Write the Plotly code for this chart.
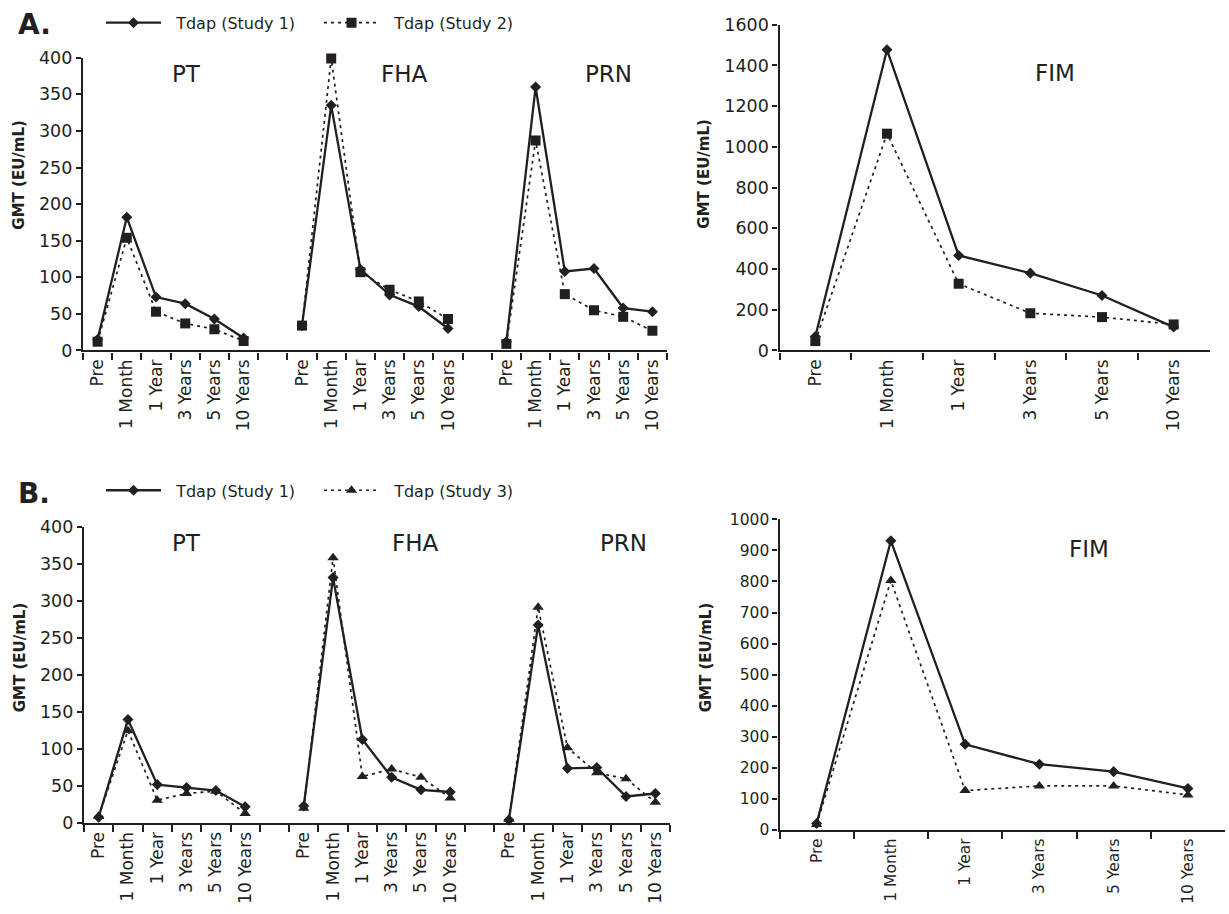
import plotly.graph_objects as go

# ---------------- data ----------------
timepoints = ["Pre", "1 Month", "1 Year", "3 Years", "5 Years", "10 Years"]
left_antigens = ["PT", "FHA", "PRN"]

# Panel A: Study 1 vs Study 2
A_PT_s1 = [15, 182, 73, 64, 43, 17]
A_PT_s2 = [12, 154, 53, 37, 29, 13]
A_FHA_s1 = [34, 335, 111, 76, 60, 30]
A_FHA_s2 = [34, 399, 107, 83, 67, 43]
A_PRN_s1 = [12, 360, 108, 112, 58, 53]
A_PRN_s2 = [9, 287, 77, 55, 46, 27]
A_FIM_s1 = [69, 1477, 467, 380, 270, 115]
A_FIM_s2 = [46, 1065, 328, 183, 164, 128]

# Panel B: Study 1 vs Study 3
B_PT_s1 = [8, 140, 52, 48, 44, 22]
B_PT_s3 = [9, 125, 31, 40, 43, 13]
B_FHA_s1 = [23, 332, 113, 62, 45, 42]
B_FHA_s3 = [20, 359, 63, 73, 62, 34]
B_PRN_s1 = [4, 268, 74, 75, 36, 40]
B_PRN_s3 = [5, 292, 102, 68, 60, 28]
B_FIM_s1 = [21, 931, 276, 212, 188, 134]
B_FIM_s3 = [18, 803, 127, 142, 142, 113]

name_s1 = "Tdap (Study 1)"
name_s2 = "Tdap (Study 2)"
name_s3 = "Tdap (Study 3)"

# ---------------- helpers ----------------
ZW = "\u200b"   # invisible, keeps repeated labels unique
GAP = "\u2060"  # invisible gap slots between antigen groups
PAD = "\u00a0\u00a0"  # small gap between legend symbol and text


def left_categories():
    cats = []
    for g in range(len(left_antigens)):
        cats += [tp + ZW * g for tp in timepoints]
        if g < len(left_antigens) - 1:
            cats.append(GAP * (g + 1))
    return cats


def left_values(*groups):
    vals = []
    for i, grp in enumerate(groups):
        vals += list(grp)
        if i < len(groups) - 1:
            vals.append(None)
    return vals


CATS = left_categories()
INK = "#231f20"
FONT = "DejaVu Sans"

solid = dict(color=INK, width=2.3)
dotted = dict(color=INK, width=1.7, dash="3px,4px")

fig = go.Figure()


def add_series(x, y, xa, ya, line, symbol, size, name, legend, showlegend):
    fig.add_trace(go.Scatter(
        x=x, y=y, xaxis=xa, yaxis=ya, mode="lines+markers",
        line=line, marker=dict(symbol=symbol, size=size, color=INK),
        name=PAD + name, legend=legend, showlegend=showlegend,
        cliponaxis=False, connectgaps=False, hoverinfo="skip"))


D, S, T = 8.5, 10, 10  # marker sizes

# Panel A
add_series(CATS, left_values(A_PT_s1, A_FHA_s1, A_PRN_s1), "x", "y", solid, "diamond", D, name_s1, "legend", True)
add_series(CATS, left_values(A_PT_s2, A_FHA_s2, A_PRN_s2), "x", "y", dotted, "square", S, name_s2, "legend", True)
add_series(timepoints, A_FIM_s1, "x2", "y2", solid, "diamond", D, name_s1, "legend", False)
add_series(timepoints, A_FIM_s2, "x2", "y2", dotted, "square", S, name_s2, "legend", False)

# Panel B
add_series(CATS, left_values(B_PT_s1, B_FHA_s1, B_PRN_s1), "x3", "y3", solid, "diamond", D, name_s1, "legend2", True)
add_series(CATS, left_values(B_PT_s3, B_FHA_s3, B_PRN_s3), "x3", "y3", dotted, "triangle-up", T, name_s3, "legend2", True)
add_series(timepoints, B_FIM_s1, "x4", "y4", solid, "diamond", D, name_s1, "legend2", False)
add_series(timepoints, B_FIM_s3, "x4", "y4", dotted, "triangle-up", T, name_s3, "legend2", False)

W, H = 1229, 914


def ry(y):
    # vertical calibration of the page as photographed
    return (y - 9.2) / 0.979


def px_x(a, b):
    return [a / W, b / W]


def px_y(top, bottom):
    return [1 - ry(bottom) / H, 1 - ry(top) / H]


def xax(domain, anchor, ncat, fsize):
    return dict(domain=domain, anchor=anchor, type="category",
                range=[-0.5, ncat - 0.5], tickmode="linear", tick0=0, dtick=1,
                tickson="boundaries", ticks="outside", ticklen=7, tickwidth=2,
                tickcolor=INK, showline=True, linewidth=2.2, linecolor=INK,
                tickangle=-90, tickfont=dict(family=FONT, size=fsize, color=INK),
                showgrid=False, zeroline=False, fixedrange=True)


def yax(domain, anchor, rng, dt, fsize):
    return dict(domain=domain, anchor=anchor, range=rng, dtick=dt, tick0=0,
                tickmode="linear", ticks="outside", ticklen=5, tickwidth=2,
                tickcolor=INK, showline=True, linewidth=2.2, linecolor=INK,
                tickfont=dict(family=FONT, size=fsize, color=INK),
                showgrid=False, zeroline=False, fixedrange=True)


legend_common = dict(orientation="h", xanchor="left", yanchor="middle",
                     font=dict(family=FONT, size=16, color=INK), bgcolor="rgba(0,0,0,0)",
                     itemwidth=55, entrywidth=148, entrywidthmode="pixels")

fig.update_layout(
    width=W, height=H, margin=dict(l=0, r=0, t=0, b=0),
    paper_bgcolor="white", plot_bgcolor="white",
    font=dict(family=FONT, color=INK),
    xaxis=xax(px_x(83, 667), "y", len(CATS), 17),
    yaxis=yax(px_y(57, 350), "x", [0, 400], 50, 17.5),
    xaxis2=xax(px_x(779.5, 1209.5), "y2", len(timepoints), 17),
    yaxis2=yax(px_y(24, 350), "x2", [0, 1600], 200, 17.5),
    xaxis3=xax(px_x(84, 670), "y3", len(CATS), 17),
    yaxis3=yax(px_y(527, 823), "x3", [0, 400], 50, 17.5),
    xaxis4=xax(px_x(779.5, 1225), "y4", len(timepoints), 15.5),
    yaxis4=yax(px_y(519, 830), "x4", [0, 1000], 100, 15.5),
    legend=dict(x=101 / W, y=1 - ry(22) / H, **legend_common),
    legend2=dict(x=101 / W, y=1 - ry(490) / H, **legend_common),
    showlegend=True,
)

annotations = []


def ann(text, x, y, size, bold=False, angle=0):
    annotations.append(dict(
        text=("<b>%s</b>" % text) if bold else text, x=x / W, y=1 - ry(y) / H,
        xref="paper", yref="paper", showarrow=False, textangle=angle,
        xanchor="center", yanchor="middle",
        font=dict(family=FONT, size=size, color=INK)))


# Panel letters
ann("A.", 34, 24, 28, bold=True)
ann("B.", 34, 493, 28, bold=True)

# Antigen titles
for t, x, y in [("PT", 186, 73), ("FHA", 404, 73), ("PRN", 608, 73), ("FIM", 1055, 72),
                ("PT", 186, 543), ("FHA", 416, 543), ("PRN", 623, 543), ("FIM", 1089, 549)]:
    ann(t, x, y, 23)

# Y-axis titles
for x, y in [(19, 174), (704, 173), (20, 657), (706, 657)]:
    ann("GMT (EU/mL)", x, y, 15, bold=True, angle=-90)

fig.update_layout(annotations=annotations)

fig.write_html(
    "out.html",
    config={"displayModeBar": False},
    post_script="document.body.style.margin='0px';document.documentElement.style.overflow='hidden';",
)
